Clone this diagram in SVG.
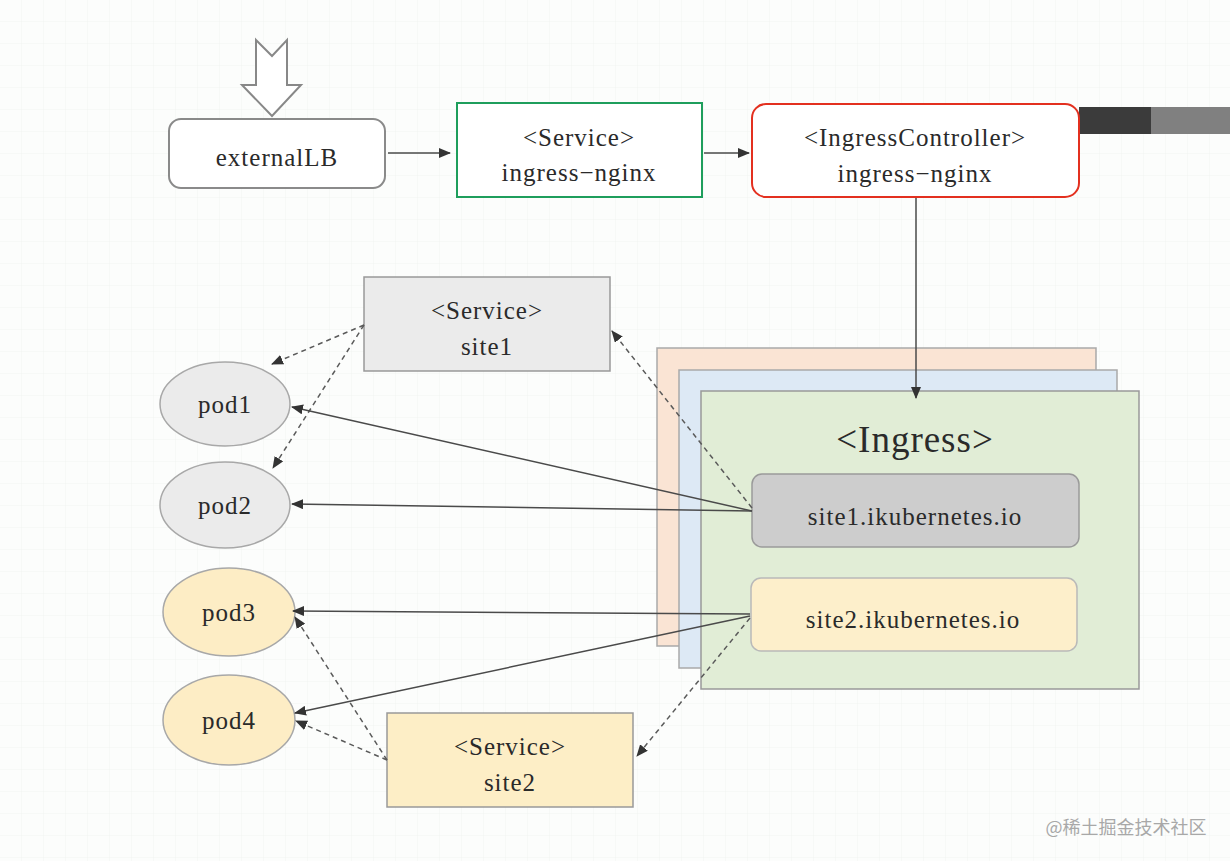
<svg xmlns="http://www.w3.org/2000/svg" width="1230" height="861" viewBox="0 0 1230 861">
<defs>
<pattern id="grid" width="22" height="22" patternUnits="userSpaceOnUse">
<path d="M22 0 V22 M0 22 H22" fill="none" stroke="#f2f4f2" stroke-width="1"/>
</pattern>
<marker id="ah" viewBox="0 0 12 10" refX="11" refY="5" markerWidth="12" markerHeight="10" markerUnits="userSpaceOnUse" orient="auto">
<path d="M0 0 L12 5 L0 10 Z" fill="#333"/>
</marker>
<style>
text{font-family:"Liberation Serif","DejaVu Serif",serif;fill:#2a2a2a;text-anchor:middle}
.t{font-size:25px;letter-spacing:1px}
.solid{stroke:#4a4a4a;stroke-width:1.5;fill:none}
.dash{stroke:#5a5a5a;stroke-width:1.5;fill:none;stroke-dasharray:5 4}
</style>
</defs>
<rect width="1230" height="861" fill="#fcfdfc"/>
<rect width="1230" height="861" fill="url(#grid)"/>

<g id="bar">
<rect x="1079" y="107" width="72" height="27" fill="#3b3b3b"/>
<rect x="1151" y="107" width="79" height="27" fill="#808080"/>
</g>

<g id="input-arrow">
<path d="M256 40 L272 56 L287 40 L287 85 L301 85 L272 116 L242 85 L256 85 Z" fill="#fff" stroke="#888" stroke-width="2" stroke-linejoin="miter"/>
</g>

<g id="externalLB">
<rect x="169" y="119" width="216" height="69" rx="12" fill="#fff" stroke="#8a8a8a" stroke-width="2"/>
<text class="t" x="277" y="166">externalLB</text>
</g>

<g id="svc-ingress-nginx">
<rect x="457" y="103" width="245" height="94" fill="#fff" stroke="#1e9e5c" stroke-width="2"/>
<text class="t" x="579" y="146">&lt;Service&gt;</text>
<text class="t" x="579" y="181">ingress−nginx</text>
</g>

<g id="ingress-controller">
<rect x="752" y="104" width="327" height="93" rx="14" fill="#fff" stroke="#e3301f" stroke-width="2"/>
<text class="t" x="915" y="146">&lt;IngressController&gt;</text>
<text class="t" x="915" y="182">ingress−nginx</text>
</g>

<g id="ingress-stack">
<rect x="657" y="348" width="439" height="298" fill="#fae4d4" stroke="#a9a9a9" stroke-width="1.5"/>
<rect x="679" y="370" width="438" height="298" fill="#dde9f5" stroke="#a9a9a9" stroke-width="1.5"/>
<rect x="701" y="391" width="438" height="298" fill="#e1edd6" stroke="#999" stroke-width="1.5"/>
<text x="915" y="452" style="font-size:37px;letter-spacing:1px">&lt;Ingress&gt;</text>
</g>

<g id="site1-host">
<rect x="752" y="474" width="327" height="73" rx="10" fill="#cdcdcd" stroke="#9a9a9a" stroke-width="1.5"/>
<text class="t" x="915" y="525">site1.ikubernetes.io</text>
</g>

<g id="site2-host">
<rect x="751" y="578" width="326" height="73" rx="10" fill="#fdefcb" stroke="#b9b9b9" stroke-width="1.5"/>
<text class="t" x="913" y="628">site2.ikubernetes.io</text>
</g>

<g id="svc-site1">
<rect x="364" y="277" width="246" height="94" fill="#ebebeb" stroke="#999" stroke-width="1.5"/>
<text class="t" x="487" y="319">&lt;Service&gt;</text>
<text class="t" x="487" y="355">site1</text>
</g>

<g id="svc-site2">
<rect x="387" y="713" width="246" height="94" fill="#fdeec6" stroke="#999" stroke-width="1.5"/>
<text class="t" x="510" y="755">&lt;Service&gt;</text>
<text class="t" x="510" y="791">site2</text>
</g>

<g id="pod1">
<ellipse cx="225" cy="404" rx="65" ry="42" fill="#ebebeb" stroke="#a8a8a8" stroke-width="1.5"/>
<text class="t" x="225" y="413">pod1</text>
</g>
<g id="pod2">
<ellipse cx="225" cy="505" rx="65" ry="43" fill="#ebebeb" stroke="#a8a8a8" stroke-width="1.5"/>
<text class="t" x="225" y="514">pod2</text>
</g>
<g id="pod3">
<ellipse cx="229" cy="612" rx="66" ry="44" fill="#fdedc5" stroke="#a8a8a8" stroke-width="1.5"/>
<text class="t" x="229" y="621">pod3</text>
</g>
<g id="pod4">
<ellipse cx="229" cy="720" rx="66" ry="45" fill="#fdedc5" stroke="#a8a8a8" stroke-width="1.5"/>
<text class="t" x="229" y="729">pod4</text>
</g>

<g id="connectors">
<path class="solid" d="M388 153 H450" marker-end="url(#ah)"/>
<path class="solid" d="M704 153 H749" marker-end="url(#ah)"/>
<path class="solid" d="M916 198 V398" marker-end="url(#ah)"/>
<path class="dash" d="M364 325 L272 364" marker-end="url(#ah)"/>
<path class="dash" d="M364 325 L273 468" marker-end="url(#ah)"/>
<path class="solid" d="M752 511 L292 407" marker-end="url(#ah)"/>
<path class="solid" d="M752 511 L292 504" marker-end="url(#ah)"/>
<path class="dash" d="M752 508 L612 331" marker-end="url(#ah)"/>
<path class="solid" d="M750 614 L293 611" marker-end="url(#ah)"/>
<path class="solid" d="M750 616 L295 713" marker-end="url(#ah)"/>
<path class="dash" d="M387 760 L295 617" marker-end="url(#ah)"/>
<path class="dash" d="M387 760 L296 721" marker-end="url(#ah)"/>
<path class="dash" d="M750 618 L637 756" marker-end="url(#ah)"/>
</g>

<text x="1126" y="834" style="font-family:'Noto Sans CJK SC','Noto Sans',sans-serif;font-size:18px;fill:#a8a8a8">@稀土掘金技术社区</text>
</svg>
